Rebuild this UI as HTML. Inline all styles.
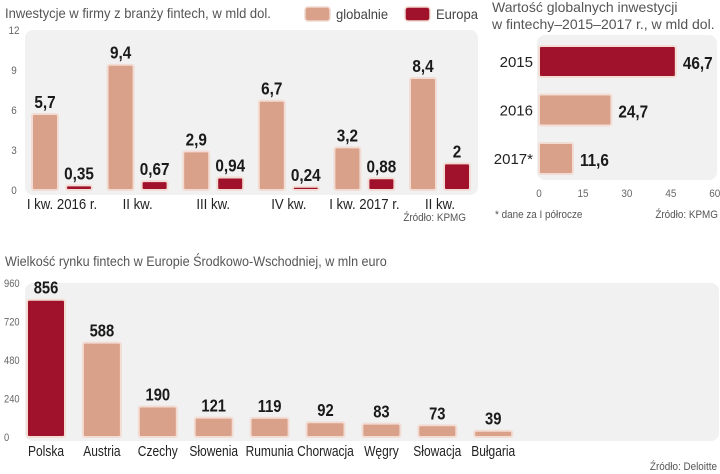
<!DOCTYPE html>
<html><head><meta charset="utf-8"><style>
body{margin:0;background:#fff;}
svg{display:block;font-family:"Liberation Sans",sans-serif;}
.t{fill:#555;font-size:14px;}
.tick{fill:#666;font-size:11px;}
.cat{fill:#222;font-size:15px;}
.val{fill:#1a1a1a;font-size:18px;font-weight:bold;}
.src{fill:#555;font-size:11px;}
</style></head><body>
<svg id="s" width="720" height="474" viewBox="0 0 720 474">
<rect x="25" y="30" width="453" height="165" rx="8" fill="#f1f1f1"/>
<rect x="537" y="35" width="180" height="145" rx="8" fill="#f1f1f1"/>
<rect x="25" y="283" width="694" height="158" rx="8" fill="#f1f1f1"/>
<text x="5" y="18" class="t" data-sx="0.93">Inwestycje w firmy z branży fintech, w mld dol.</text>
<rect x="305" y="7" width="25" height="14" rx="3" fill="#d9a08a" stroke="#f0d8cf" stroke-width="1.5"/>
<text x="336" y="19" class="t" data-sx="0.93" style="fill:#444">globalnie</text>
<rect x="405" y="7" width="25" height="14" rx="3" fill="#a0122b" stroke="#f0d8cf" stroke-width="1.5"/>
<text x="436" y="19" class="t" data-sx="0.93" style="fill:#444">Europa</text>
<text x="466" y="221" class="src" data-sx="0.9" text-anchor="end">Źródło: KPMG</text>
<text x="492" y="12" class="t">Wartość globalnych inwestycji</text>
<text x="492" y="29" class="t">w fintechy–2015–2017 r., w mld dol.</text>
<text x="495" y="218" class="src" data-sx="0.9">* dane za I półrocze</text>
<text x="718" y="218" class="src" data-sx="0.9" text-anchor="end">Źródło: KPMG</text>
<text x="5" y="266" class="t" data-sx="0.9">Wielkość rynku fintech w Europie Środkowo-Wschodniej, w mln euro</text>
<text x="717" y="470" class="src" data-sx="0.9" text-anchor="end">Źródło: Deloitte</text>
<g id="g"></g>
</svg>
<script>
const q = ["I kw. 2016 r.","II kw.","III kw.","IV kw.","I kw. 2017 r.","II kw."];
const glob = [5.7,9.4,2.9,6.7,3.2,8.4];
const eur = [0.35,0.67,0.94,0.24,0.88,2];
const yt1 = [0,3,6,9,12];
const years = ["2015","2016","2017*"];
const yv = [46.7,24.7,11.6];
const xt2 = [0,15,30,45,60];
const countries = ["Polska","Austria","Czechy","Słowenia","Rumunia","Chorwacja","Węgry","Słowacja","Bułgaria"];
const market = [856,588,190,121,119,92,83,73,39];
const yt3 = [0,240,480,720,960];

const NS="http://www.w3.org/2000/svg", G=document.getElementById('g');
function el(t,a,txt){const e=document.createElementNS(NS,t);for(const k in a)e.setAttribute(k,a[k]);if(txt!==undefined)e.textContent=txt;G.appendChild(e);return e;}
const fmt=v=>String(v).replace('.',',');
const SAL="#d9a08a",RED="#a0122b",BR="#f3dcd3";
// chart1
const y1=v=>190-v*13.33, x1=i=>32+i*75.6;
yt1.forEach(v=>{const e=el('text',{x:14,y:y1(v)+4,'class':'tick','text-anchor':'middle','data-sx':0.9},v);

});
q.forEach((c,i)=>{
 const gx=x1(i), ex=x1(i)+34;
 let b=el('rect',{x:gx,y:y1(glob[i]),width:26,height:Math.max(190-y1(glob[i]),1.5),rx:2,fill:SAL,stroke:BR,'stroke-width':2});
 
 
 let b2=el('rect',{x:ex,y:y1(eur[i]),width:26,height:Math.max(190-y1(eur[i]),1.5),rx:2,fill:RED,stroke:BR,'stroke-width':2});
 
 
 let t=el('text',{x:gx+13,y:y1(glob[i])-6,'class':'val','text-anchor':'middle','data-sx':0.85},fmt(glob[i]));
 
 
 let t2=el('text',{x:ex+13,y:y1(eur[i])-6,'class':'val','text-anchor':'middle','data-sx':0.85},fmt(eur[i]));
 
 
 let l=el('text',{x:gx+30,y:209,'class':'cat','text-anchor':'middle','data-sx':0.88},c);
 
 
});
// chart2
const x2=v=>539+v*2.93, yb=i=>46+i*48.5;
xt2.forEach(v=>{const e=el('text',{x:x2(v),y:197,'class':'tick','text-anchor':'middle','data-sx':0.9},v);

});
years.forEach((c,i)=>{
 let b=el('rect',{x:539,y:yb(i),width:x2(yv[i])-539,height:31,rx:2,fill:i==0?RED:SAL,stroke:BR,'stroke-width':2});
 
 
 let t=el('text',{x:x2(yv[i])+7,y:yb(i)+23,'class':'val','text-anchor':'start','data-sx':0.85},fmt(yv[i]));
 
 
 let l=el('text',{x:533,y:yb(i)+21,'class':'cat','text-anchor':'end'},c);
 
 
});
// chart3
const y3=v=>437-v*0.1604, x3=i=>27+i*55.9;
yt3.forEach(v=>{const e=el('text',{x:4,y:y3(v)+4,'class':'tick','text-anchor':'start','data-sx':0.85},v);

});
countries.forEach((c,i)=>{
 let b=el('rect',{x:x3(i),y:y3(market[i]),width:38,height:437-y3(market[i]),rx:2,fill:i==0?RED:SAL,stroke:BR,'stroke-width':2});
 
 
 let t=el('text',{x:x3(i)+19,y:y3(market[i])-6,'class':'val','text-anchor':'middle','data-sx':0.82},market[i]);
 
 
 let l=el('text',{x:x3(i)+19,y:456,'class':'cat','text-anchor':'middle','data-sx':0.8},c);
 
 
});
// condense text horizontally
document.querySelectorAll('text[data-sx]').forEach(e=>{
 const x=e.getAttribute('x'),y=e.getAttribute('y'),s=e.getAttribute('data-sx');
 e.setAttribute('x',0);e.setAttribute('y',0);
 e.setAttribute('transform','translate('+x+' '+y+') scale('+s+' 1)');
});
</script>
</body></html>
